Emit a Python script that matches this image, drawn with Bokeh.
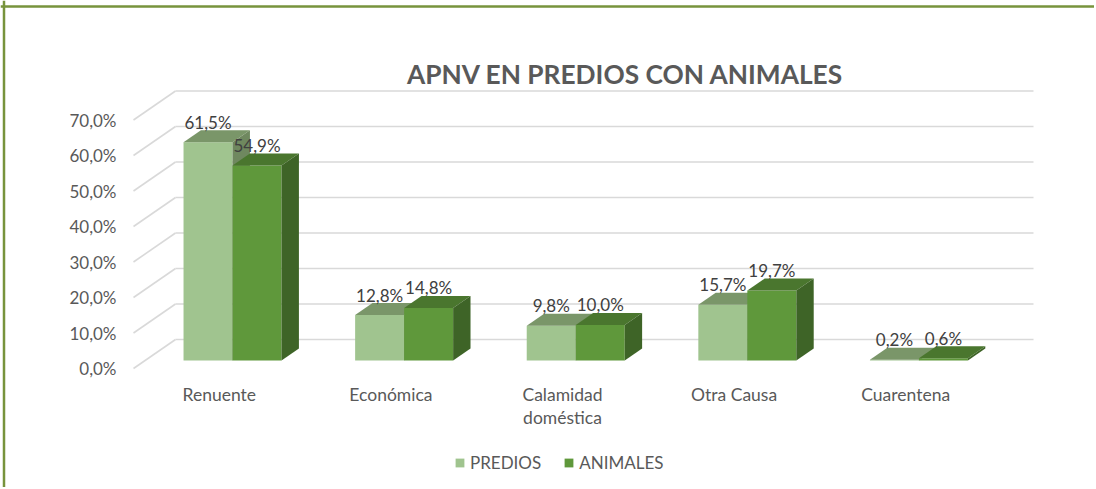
from bokeh.plotting import figure
from bokeh.models import Range1d, Span, Label, Legend, LegendItem
from bokeh.core.properties import value
from bokeh.embed import file_html
from bokeh.resources import INLINE

# ---------------- data ----------------
title_text = "APNV EN PREDIOS CON ANIMALES"
categories = ["Renuente", "Económica", "Calamidad\ndoméstica", "Otra Causa", "Cuarentena"]
series_names = ["PREDIOS", "ANIMALES"]
predios = [61.5, 12.8, 9.8, 15.7, 0.2]
animales = [54.9, 14.8, 10.0, 19.7, 0.6]
y_ticks = [0, 10, 20, 30, 40, 50, 60, 70]
y_tick_labels = ["0,0%", "10,0%", "20,0%", "30,0%", "40,0%", "50,0%", "60,0%", "70,0%"]

# ---------------- layout ----------------
W, H = 1094, 487
X0_PX, Y0_PX = 133, 368          # front-left floor corner (canvas px)
PX_PER_CAT = 171.6
PX_PER_PCT = 3.55

x_start = -X0_PX / PX_PER_CAT
x_end = (W - X0_PX) / PX_PER_CAT
y_start = -(H - Y0_PX) / PX_PER_PCT
y_end = Y0_PX / PX_PER_PCT

def px_x(px):
    return x_start + px / PX_PER_CAT

def px_y(py):
    return y_end - py / PX_PER_PCT

DX = 42 / PX_PER_CAT             # full depth offset
DY = 29 / PX_PER_PCT
F0 = 0.276                       # depth of bar front face
FD = 0.414                       # bar depth fraction
BDX, BDY = FD * DX, FD * DY
BW = 49 / PX_PER_CAT
GAP0 = 0.224

FONT = value("Lato")
GRAY = "#595959"

colors = {
    "PREDIOS": ("#A0C48F", "#7A9669", "#6F885F"),
    "ANIMALES": ("#5F983B", "#4A762E", "#3E6427"),
}

p = figure(width=W, height=H, output_backend="svg", toolbar_location=None,
           x_range=Range1d(x_start, x_end), y_range=Range1d(y_start, y_end),
           x_axis_type=None, y_axis_type=None, min_border=0,
           outline_line_color=None, background_fill_color="white",
           border_fill_color="white")
p.grid.visible = False

n = len(categories)

# back wall gridlines and left-wall diagonals
p.segment(x0=[DX] * len(y_ticks), y0=[t + DY for t in y_ticks],
          x1=[n + DX] * len(y_ticks), y1=[t + DY for t in y_ticks],
          line_color="#D9D9D9", line_width=1.6)
p.segment(x0=[0] * len(y_ticks), y0=y_ticks,
          x1=[DX] * len(y_ticks), y1=[t + DY for t in y_ticks],
          line_color="#D9D9D9", line_width=1.6)

# y tick labels (front plane)
p.text(x=[0] * len(y_ticks), y=y_ticks, text=y_tick_labels,
       text_font=FONT, text_font_size="17px", text_color=GRAY,
       text_align="right", text_baseline="middle", x_offset=-17)

# category labels
p.text(x=[i + 0.5 for i in range(n)], y=[0] * n, text=categories,
       text_font=FONT, text_font_size="17.5px", text_color=GRAY,
       text_align="center", text_baseline="top", y_offset=15,
       text_line_height=1.12)

front_renderers = {}
for s, (name, vals) in enumerate(zip(series_names, [predios, animales])):
    fc, tc, sc = colors[name]
    left = [i + F0 * DX + GAP0 + s * BW for i in range(n)]
    right = [l + BW for l in left]
    bottom = [F0 * DY] * n
    top = [F0 * DY + v for v in vals]
    r = p.quad(left=left, right=right, bottom=bottom, top=top,
               fill_color=fc, line_color=None)
    front_renderers[name] = r
    # top faces
    tx = [[l, rr, rr + BDX, l + BDX] for l, rr in zip(left, right)]
    ty = [[t, t, t + BDY, t + BDY] for t in top]
    p.patches(xs=tx, ys=ty, fill_color=tc, line_color=None)
    # side faces
    sx = [[rr, rr, rr + BDX, rr + BDX] for rr in right]
    sy = [[b, t, t + BDY, b + BDY] for b, t in zip(bottom, top)]
    p.patches(xs=sx, ys=sy, fill_color=sc, line_color=None)
    # data labels
    lab = [f"{v:.1f}%".replace(".", ",") for v in vals]
    p.text(x=[(l + rr) / 2 for l, rr in zip(left, right)],
           y=[t + BDY for t in top], text=lab,
           text_font=FONT, text_font_size="17px", text_color="#404040",
           text_align="center", text_baseline="middle", y_offset=-8)

# title
p.add_layout(Label(x=px_x(625), y=px_y(73), text=title_text,
                   text_font="Lato", text_font_style="bold",
                   text_font_size="26.3px", text_color=GRAY,
                   text_align="center", text_baseline="middle"))

# outer border (top & left)
p.add_layout(Span(location=px_y(6), dimension="width",
                  line_color="#77933C", line_width=2.5))
p.add_layout(Span(location=px_x(3.5), dimension="height",
                  line_color="#77933C", line_width=2.5))

legend = Legend(items=[LegendItem(label=nm, renderers=[front_renderers[nm]])
                       for nm in series_names],
                orientation="horizontal", location=(454, 14),
                glyph_width=11, glyph_height=11, label_standoff=5, spacing=22,
                padding=0, margin=0, border_line_color=None,
                background_fill_alpha=0,
                label_text_font="Lato", label_text_font_size="17px",
                label_text_color=GRAY)
p.add_layout(legend)

open("out.html", "w").write(file_html(p, INLINE))
